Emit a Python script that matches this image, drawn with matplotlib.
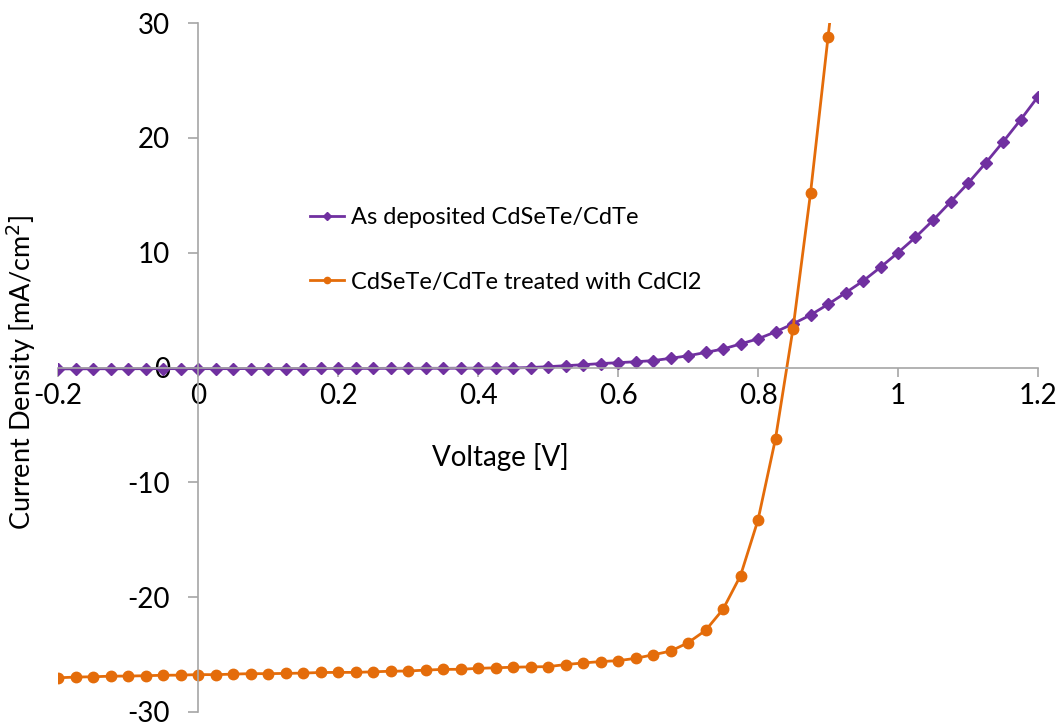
import matplotlib
matplotlib.use("Agg")
import matplotlib.pyplot as plt
import numpy as np

plt.rcParams['font.family'] = ['Lato', 'DejaVu Sans']
plt.rcParams['axes.unicode_minus'] = False

# voltage sweep, 25 mV steps
voltage = np.round(np.arange(-0.2, 1.2001, 0.025), 3)

as_deposited = [
    -0.12, -0.12, -0.11, -0.11, -0.11, -0.10, -0.10, -0.10, -0.10,   # -0.2 .. 0.0
    -0.10, -0.10, -0.09, -0.09, -0.09, -0.09, -0.08, -0.08,          # 0.025 .. 0.2
    -0.08, -0.08, -0.07, -0.07, -0.07, -0.07, -0.06, -0.06,          # 0.225 .. 0.4
    -0.05, -0.04, 0.0, 0.07, 0.16, 0.24, 0.34, 0.42,                 # 0.425 .. 0.6
    0.5, 0.6, 0.8, 1.02, 1.31, 1.61, 2.05, 2.5,                      # 0.625 .. 0.8
    3.1, 3.8, 4.57, 5.5, 6.5, 7.53, 8.73, 10.0,                      # 0.825 .. 1.0
    11.34, 12.82, 14.42, 16.04, 17.79, 19.64, 21.56, 23.59,          # 1.025 .. 1.2
]

cdcl2_voltage = voltage[voltage <= 0.925 + 1e-9]
cdcl2_treated = [
    -27.02, -26.96, -26.93, -26.88, -26.87, -26.84, -26.80, -26.79, -26.74,  # -0.2 .. 0.0
    -26.75, -26.70, -26.66, -26.66, -26.64, -26.61, -26.56, -26.55,          # 0.025 .. 0.2
    -26.55, -26.50, -26.45, -26.43, -26.35, -26.29, -26.28, -26.20,          # 0.225 .. 0.4
    -26.15, -26.10, -26.07, -26.05, -25.87, -25.73, -25.61, -25.53,          # 0.425 .. 0.6
    -25.33, -25.02, -24.70, -23.97, -22.90, -21.06, -18.13, -13.28,          # 0.625 .. 0.8
    -6.20, 3.38, 15.17, 28.75, 42.0,                                         # 0.825 .. 0.925
]

x_ticks = [-0.2, 0, 0.2, 0.4, 0.6, 0.8, 1, 1.2]
x_ticklabels = ['-0.2', '0', '0.2', '0.4', '0.6', '0.8', '1', '1.2']
y_ticks = [-30, -20, -10, 0, 10, 20, 30]

purple = '#7030A0'
orange = '#E46C0A'
grey = '#A6A6A6'

fig = plt.figure(figsize=(10.6, 7.23), dpi=100)
ax = fig.add_axes([58 / 1060, 11 / 723, 980 / 1060, 689 / 723])

ax.plot(voltage, as_deposited, color=purple, lw=2, marker='D', ms=6.5,
        label='As deposited CdSeTe/CdTe')
ax.plot(cdcl2_voltage, cdcl2_treated, color=orange, lw=2, marker='o', ms=7.5,
        label='CdSeTe/CdTe treated with CdCl2')

ax.set_xlim(-0.2, 1.2)
ax.set_ylim(-30, 30)

# axes cross at the origin, like the spreadsheet chart
ax.spines['left'].set_position(('data', 0))
ax.spines['bottom'].set_position(('data', 0))
ax.spines['right'].set_visible(False)
ax.spines['top'].set_visible(False)
for s in ('left', 'bottom'):
    ax.spines[s].set_color(grey)
    ax.spines[s].set_linewidth(1.2)

ax.set_xticks(x_ticks)
ax.set_xticklabels(x_ticklabels)
ax.set_yticks(y_ticks)
ax.tick_params(axis='both', colors=grey, labelcolor='black', labelsize=20,
               width=1.2, direction='out')
ax.tick_params(axis='x', length=6.5, pad=5)
ax.tick_params(axis='y', length=7, pad=13)

ax.set_xlabel('Voltage [V]', fontsize=20)
ax.xaxis.set_label_coords(0.451, 0.39)
ax.xaxis.label.set_va('top')
ax.set_ylabel('Current Density [mA/cm$^2$]', fontsize=19.5)
ax.yaxis.set_label_coords(-0.02, 0.493)

ax.legend(loc='upper left', bbox_to_anchor=(0.257, 0.733), frameon=False,
          fontsize=17, handlelength=1.45, handletextpad=0.3, labelspacing=1.85,
          borderpad=0, borderaxespad=0, markerscale=0.6)

fig.savefig('out.png', dpi=100)
